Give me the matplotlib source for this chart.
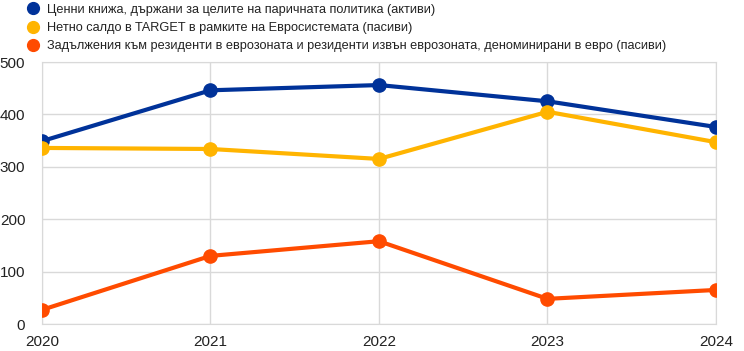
import matplotlib
matplotlib.use("Agg")
import matplotlib.pyplot as plt
from matplotlib.lines import Line2D
from matplotlib import font_manager

years = ["2020", "2021", "2022", "2023", "2024"]
securities = [349, 446, 456, 425, 376]
target = [336, 334, 315, 405, 347]
liabilities = [27, 130, 158, 48, 65]
labels = [
    "Ценни книжа, държани за целите на паричната политика (активи)",
    "Нетно салдо в TARGET в рамките на Евросистемата (пасиви)",
    "Задължения към резиденти в еврозоната и резиденти извън еврозоната, деноминирани в евро (пасиви)",
]
colors = ["#003299", "#FFB400", "#FF4B00"]

plt.rcParams['font.family'] = ['Liberation Sans', 'DejaVu Sans']
names = {f.name for f in font_manager.fontManager.ttflist}
narrow = 'Liberation Sans Narrow' if 'Liberation Sans Narrow' in names else 'Liberation Sans'
legsize = 11 if narrow == 'Liberation Sans Narrow' else 9.2

fig = plt.figure(figsize=(7.44, 3.51), dpi=100)
ax = fig.add_axes([42/744, 1-324/351, (716-42)/744, (324-62)/351])

x = list(range(len(years)))
for vals, c in zip([securities, target, liabilities], colors):
    ax.plot(x, vals, color=c, lw=3, marker='o', ms=9.5, zorder=3)

ax.set_xlim(0, len(years)-1)
ax.set_ylim(0, 500)
ax.set_yticks([0, 100, 200, 300, 400, 500])
ax.set_xticks(x)
ax.set_xticklabels(years)
ax.grid(True, color='#d9d9d9', lw=1)
for s in ax.spines.values():
    s.set_color('#d9d9d9')
ax.tick_params(length=0, labelsize=11, colors='#222222', pad=4)
ax.tick_params(axis='x', pad=8)
ax.tick_params(axis='y', pad=12)

handles = [Line2D([], [], ls='none', marker='o', ms=8.5, color=c) for c in colors]
leg = fig.legend(handles, labels, loc='upper left', bbox_to_anchor=(26/744, 1-3/351),
                 frameon=False, prop={'family': [narrow, 'DejaVu Sans'], 'size': legsize},
                 handletextpad=0.6, labelspacing=0.5,
                 handlelength=1.0, borderaxespad=0.0, borderpad=0.05)
for t in leg.get_texts():
    t.set_color('#222222')

fig.savefig("out.png", dpi=100)
